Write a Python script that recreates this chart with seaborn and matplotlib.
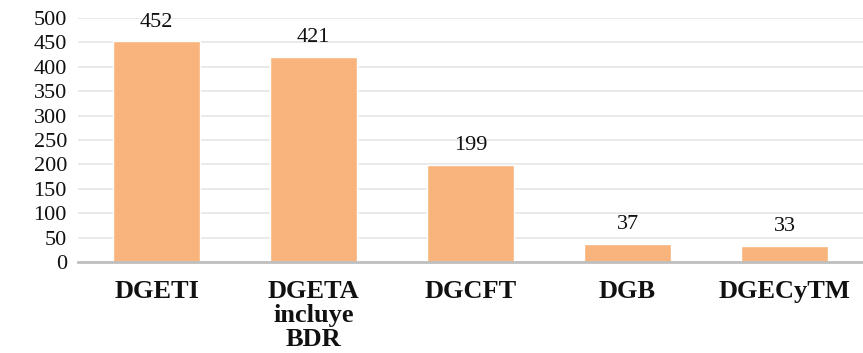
import matplotlib
matplotlib.use("Agg")
import matplotlib.pyplot as plt
import seaborn as sns
import pandas as pd

# datos de la grafica
categorias = ["DGETI", "DGETA\nincluye\nBDR", "DGCFT", "DGB", "DGECyTM"]
valores = [452, 421, 199, 37, 33]
marcas_y = [0, 50, 100, 150, 200, 250, 300, 350, 400, 450, 500]

df = pd.DataFrame({"categoria": categorias, "valor": valores})

sns.set_theme(style="white")
plt.rcParams["font.family"] = ["Liberation Serif", "DejaVu Serif"]

fig = plt.figure(figsize=(8.63, 3.53), dpi=100)
ax = fig.add_axes([0.0904, 0.258, 0.9096, 0.691])

sns.barplot(data=df, x="categoria", y="valor", color="#F8B47C", saturation=1,
            width=0.55, ax=ax, zorder=3)

ax.bar_label(ax.containers[0], labels=[str(v) for v in valores], padding=7,
             fontsize=16, color="#111111")

ax.set_ylim(0, 500)
ax.set_xlim(-0.5, 4.5)
ax.set_yticks(marcas_y)
ax.set_yticklabels([str(m) for m in marcas_y], fontsize=16, color="#111111")
ax.set_xticks(range(len(categorias)))
ax.set_xticklabels(categorias, fontsize=19, fontweight="bold", color="#111111",
                   linespacing=1.06)
ax.tick_params(axis="x", length=0, pad=13)
ax.tick_params(axis="y", length=0, pad=8)

ax.grid(axis="y", color="#e6e6e6", linewidth=1.2, zorder=0)
ax.set_axisbelow(True)
for s in ["top", "right", "left"]:
    ax.spines[s].set_visible(False)
ax.spines["bottom"].set_color("#bfbfbf")
ax.spines["bottom"].set_linewidth(2)
ax.spines["bottom"].set_zorder(4)

ax.set_xlabel("")
ax.set_ylabel("")

fig.savefig("out.png", dpi=100)
